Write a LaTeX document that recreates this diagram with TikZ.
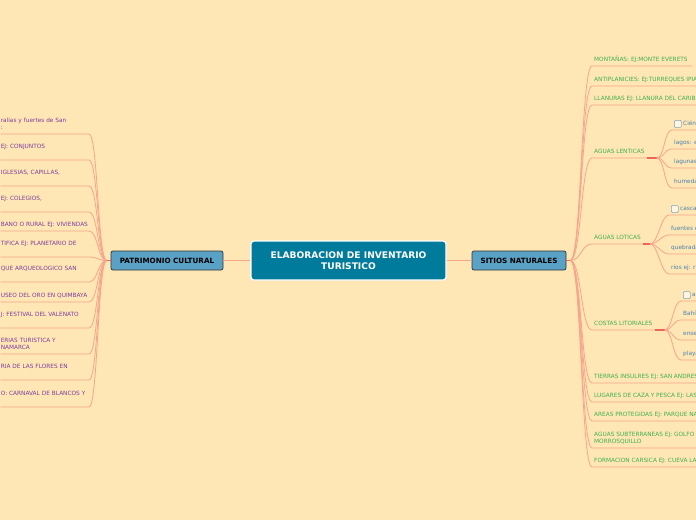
\documentclass[tikz,border=0pt]{standalone}
\usepackage{fontspec}
\setmainfont{DejaVu Sans}
\usetikzlibrary{positioning}
\definecolor{paper}{HTML}{FFE6B5}
\definecolor{hubblue}{HTML}{017B9B}
\definecolor{topicblue}{HTML}{5AA2C5}
\definecolor{linkline}{HTML}{F6A68C}
\definecolor{linkred}{HTML}{EE6458}
\definecolor{culture}{HTML}{7A3E9D}
\definecolor{nature}{HTML}{3EB04C}
\definecolor{detail}{HTML}{4B83AC}
\definecolor{tickgrey}{HTML}{84A6B6}

\begin{document}
\begin{tikzpicture}[x=1pt,y=-1pt,
  link/.style={draw=linkline,line width=0.8pt},
  stub/.style={draw=linkred,line width=1.4pt},
  leaf/.style={font=\fontsize{5.8}{7}\selectfont,inner ysep=1pt,text depth=3.5pt},
  deep/.style={text depth=10pt},
  cult/.style={leaf,text=culture,anchor=south east,inner xsep=0pt,text width=88pt,align=left},
  natu/.style={leaf,text=nature,anchor=south west,inner xsep=2pt},
  item/.style={leaf,text=detail,anchor=south west,inner xsep=2pt},
  tickbox/.style={draw=tickgrey,fill=paper!40!white,rounded corners=1pt,minimum size=7pt,inner sep=0pt,line width=0.6pt,anchor=west},
  topic/.style={fill=topicblue,draw=black!80,line width=0.7pt,rounded corners=2pt,minimum height=19pt,inner sep=0pt,font=\bfseries\fontsize{7.2}{8}\selectfont},
  hubbox/.style={fill=hubblue,draw=white,line width=1.2pt,rounded corners=3pt,minimum width=195pt,minimum height=39pt,text=white,align=center,font=\bfseries\fontsize{9.1}{11}\selectfont}]
  \fill[paper] (0,0) rectangle (696,520);
  \useasboundingbox (0,0) rectangle (696,520);
  \clip (0,0) rectangle (696,520);

  \node[hubbox] (hub) at (348.5,260.5) {ELABORACION DE INVENTARIO\\TURISTICO};
  \node[topic,minimum width=112pt] (pc) at (167,260.5) {PATRIMONIO CULTURAL};
  \node[topic,minimum width=94pt] (sn) at (519,260.5) {SITIOS NATURALES};
  \draw[link] (hub.west) -- (pc.east);
  \draw[link] (hub.east) -- (sn.west);
  \draw[stub] (pc.west) -- ++(-4,0) coordinate (pcfork);
  \draw[stub] (sn.east) -- ++(4,0) coordinate (snfork);

  % patrimonio cultural
  \node[cult,deep] (c1) at (89,134) {ralias y fuertes de San\\:};
  \node[cult,deep] (c2) at (89,160) {EJ: CONJUNTOS};
  \node[cult,deep] (c3) at (89,186) {IGLESIAS, CAPILLAS,};
  \node[cult,deep] (c4) at (89,212) {EJ: COLEGIOS,};
  \node[cult] (c5) at (89,231) {BANO O RURAL EJ: VIVIENDAS};
  \node[cult,deep] (c6) at (89,257) {TIFICA EJ: PLANETARIO DE};
  \node[cult,deep] (c7) at (89,282) {QUE ARQUEOLOGICO SAN};
  \node[cult] (c8) at (89,302) {USEO DEL ORO EN QUIMBAYA};
  \node[cult,deep] (c9) at (89,328) {J: FESTIVAL DEL VALENATO};
  \node[cult,deep] (c10) at (89,354) {ERIAS TURISTICA Y\\NAMARCA};
  \node[cult,deep] (c11) at (89,380) {RIA DE LAS FLORES EN};
  \node[cult,deep] (c12) at (89,407) {O: CARNAVAL DE BLANCOS Y};
  \foreach \c in {c1,c2,c3,c4,c5,c6,c7,c8,c9,c10,c11,c12}
    \draw[link] (pcfork) .. controls +(-9,0) and +(9,0) .. (\c.south east) -- (\c.south west);

  % sitios naturales
  \node[natu,text width=96pt,align=left] (mont) at (592,66) {\mbox{MONTAÑAS: EJ:MONTE EVERETS}};
  \node[natu] (anti) at (592,86) {ANTIPLANICIES: EJ:TURREQUES IPIA};
  \node[natu] (llan) at (592,105) {LLANURAS EJ: LLANURA DEL CARIBE};
  \node[natu] (lent) at (592,158) {AGUAS LENTICAS};
  \node[natu] (lot) at (592,244) {AGUAS LOTICAS};
  \node[natu] (cost) at (592,330) {COSTAS LITORIALES};
  \node[natu] (isla) at (592,383) {TIERRAS INSULRES EJ: SAN ANDRES};
  \node[natu] (caza) at (592,402) {LUGARES DE CAZA Y PESCA EJ: LAS};
  \node[natu] (prot) at (592,421) {AREAS PROTEGIDAS EJ: PARQUE NA};
  \node[natu,deep,text width=130pt,align=left] (subt) at (592,448) {AGUAS SUBTERRANEAS EJ: GOLFO DE\\MORROSQUILLO};
  \node[natu] (cars) at (592,467) {FORMACION CARSICA EJ: CUEVA LA};
  \foreach \r in {mont,anti,llan,lent,lot,cost,isla,caza,prot,subt,cars}
    \draw[link] (snfork) .. controls +(11,0) and +(-11,0) .. (\r.south west) -- (\r.south east);

  % aguas lenticas
  \node[item] (lt1) at (672,130) {\hspace*{9pt}Ciénagas};
  \node[tickbox] (lt1box) at ([xshift=2pt,yshift=0.8pt]lt1.west) {};
  \node[item] (lt2) at (672,149) {lagos: ej};
  \node[item] (lt3) at (672,168) {lagunas};
  \node[item] (lt4) at (672,188) {humedales};
  \draw[stub] (lent.south east) -- ++(10,0) coordinate (lentfork);
  \foreach \c in {lt1,lt2,lt3,lt4}
    \draw[link] (lentfork) .. controls +(8,0) and +(-8,0) .. (\c.south west) -- (\c.south east);

  % aguas loticas
  \node[item] (lo1) at (669,215) {\hspace*{9pt}cascadas};
  \node[tickbox] (lo1box) at ([xshift=2pt,yshift=0.8pt]lo1.west) {};
  \node[item] (lo2) at (669,235) {fuentes ej};
  \node[item] (lo3) at (669,254) {quebradas};
  \node[item] (lo4) at (669,274) {rios ej: rio};
  \draw[stub] (lot.south east) -- ++(7,0) coordinate (lotfork);
  \foreach \c in {lo1,lo2,lo3,lo4}
    \draw[link] (lotfork) .. controls +(8,0) and +(-8,0) .. (\c.south west) -- (\c.south east);

  % costas litoriales
  \node[item] (co1) at (681,301) {\hspace*{9pt}acantilados};
  \node[tickbox] (co1box) at ([xshift=2pt,yshift=0.8pt]co1.west) {};
  \node[item] (co2) at (681,320) {Bahías};
  \node[item] (co3) at (681,340) {ensenadas};
  \node[item] (co4) at (681,360) {playas};
  \draw[stub] (cost.south east) -- ++(10,0) coordinate (costfork);
  \foreach \c in {co1,co2,co3,co4}
    \draw[link] (costfork) .. controls +(8,0) and +(-8,0) .. (\c.south west) -- (\c.south east);
\end{tikzpicture}
\end{document}
